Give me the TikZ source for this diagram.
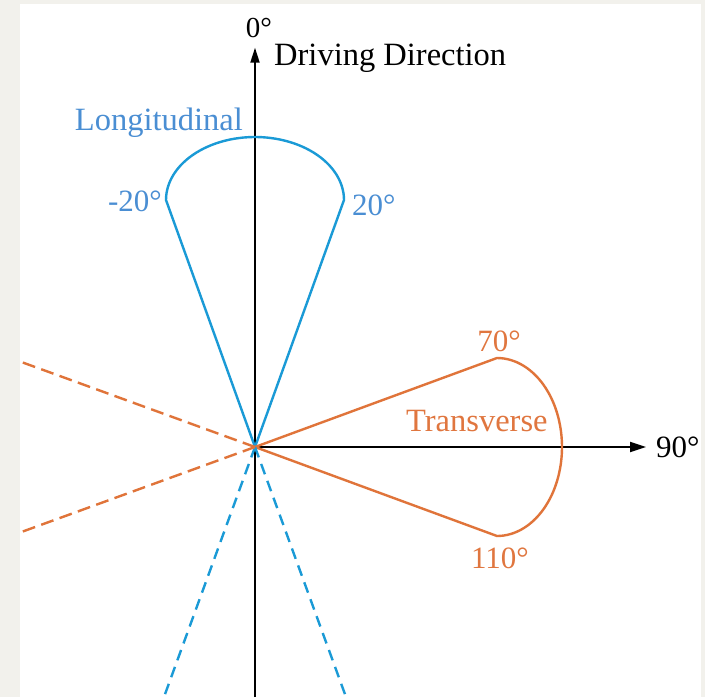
\documentclass[tikz,border=0pt]{standalone}
\usepackage{fontspec}
\setmainfont{Liberation Serif}
\usetikzlibrary{arrows.meta}
\definecolor{bggray}{HTML}{F2F1EC}
\definecolor{lineblue}{HTML}{1A9AD6}
\definecolor{textblue}{HTML}{4A8ED3}
\definecolor{lineorange}{HTML}{E0743A}
\definecolor{textorange}{HTML}{E0763F}
\tikzset{
  axisline/.style={line width=1.9pt, black},
  longline/.style={line width=2.4pt, lineblue, line join=round},
  transline/.style={line width=2.4pt, lineorange, line join=round},
  bluedash/.style={dash pattern=on 11pt off 7pt},
  orangedash/.style={dash pattern=on 13pt off 6.5pt},
  lbl/.style={inner sep=0pt, font=\fontsize{31}{36}\selectfont},
  wordlbl/.style={inner sep=0pt, font=\fontsize{32.5}{38}\selectfont},
}
\begin{document}
\begin{tikzpicture}[x=1pt,y=-1pt]
\useasboundingbox (0,0) rectangle (705,697);
\fill[bggray] (0,0) rectangle (705,697);
\fill[white] (20,4) rectangle (701,697);

\coordinate (O) at (255,447);
\coordinate (ytip) at (255,47.7);
\coordinate (ybot) at (255,697);
\coordinate (xtip) at (646,447);
\coordinate (Lm) at (166,200);
\coordinate (Lp) at (344,200);
\coordinate (Tt) at (497,358);
\coordinate (Tb) at (497,536);
\coordinate (Dl1) at (20,361.5);
\coordinate (Dl2) at (20,532.5);
\coordinate (Db1) at (164,697);
\coordinate (Db2) at (346,697);

% axes
\draw[axisline, -{Triangle[length=15pt,width=9pt]}] (ybot) -- (ytip);
\draw[axisline, -{Triangle[length=16pt,width=10pt]}] (O) -- (xtip);

% longitudinal lobe
\draw[longline] (O) -- (Lm)
  -- plot[domain=180:360, samples=60] ({255+89*cos(\x)}, {200+63*sin(\x)})
  -- (Lp) -- cycle;
% transverse lobe
\draw[transline] (O) -- (Tt)
  -- plot[domain=-90:90, samples=60] ({497+65*cos(\x)}, {447+89*sin(\x)})
  -- (Tb) -- cycle;

% dashed extensions
\draw[longline, bluedash] (O) -- (Db1);
\draw[longline, bluedash] (O) -- (Db2);
\draw[transline, orangedash] (O) -- (Dl1);
\draw[transline, orangedash] (O) -- (Dl2);

% labels
\node[inner sep=0pt, font=\fontsize{29}{34}\selectfont, anchor=base] (zero) at (259,37.3) {0°};
\node[wordlbl, anchor=base west] (drive) at (274,65.7) {Driving Direction};
\node[wordlbl, anchor=base east, textblue] (long) at (243,130) {Longitudinal};
\node[lbl, anchor=base east, textblue] (m20) at (162,211.7) {-20°};
\node[lbl, anchor=base west, textblue] (p20) at (352,215) {20°};
\node[lbl, anchor=base, textorange] (s70) at (499,351.7) {70°};
\node[wordlbl, anchor=base west, textorange] (trans) at (406,431.7) {Transverse};
\node[lbl, anchor=base west] (n90) at (656,457.3) {90°};
\node[lbl, anchor=base, textorange] (s110) at (500,568) {110°};
\end{tikzpicture}
\end{document}
